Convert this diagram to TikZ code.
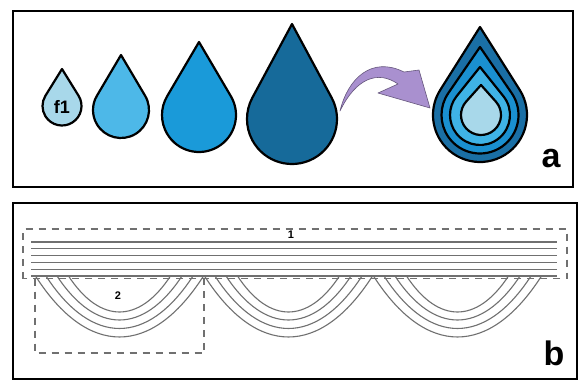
\documentclass[tikz,border=0pt]{standalone}
\usepackage{fontspec}
\setmainfont{Liberation Sans}
\usetikzlibrary{calc}
\definecolor{dropA}{HTML}{A8D8EA}
\definecolor{dropB}{HTML}{4DB8E8}
\definecolor{dropC}{HTML}{1A9AD9}
\definecolor{dropD}{HTML}{166A9A}
\definecolor{nestA}{HTML}{1A6FA5}
\definecolor{nestB}{HTML}{1A90D0}
\definecolor{nestC}{HTML}{3FB3E6}
\definecolor{arrowfill}{HTML}{A990CF}
\definecolor{linegray}{HTML}{707070}
\tikzset{
  frame/.style={draw=black, line width=2.6pt},
  dropline/.style={draw=black, line width=2.2pt, line join=round},
  dashbox/.style={draw=linegray, line width=1.3pt, dash pattern=on 7pt off 6pt},
  hline/.style={draw=linegray, line width=1.3pt},
  arcline/.style={draw=linegray, line width=1.1pt},
  biglabel/.style={font=\fontsize{34}{34}\selectfont\bfseries, inner sep=0pt},
  smalllabel/.style={font=\fontsize{11}{11}\selectfont\bfseries, inner sep=0pt}
}
% cx, cy (pixels, y down), radius, height of tip above centre, fill colour
\newcommand\drawdrop[5]{%
  \pgfmathsetmacro\dbeta{acos(#3/#4)}%
  \coordinate (dc) at (#1,-#2);
  \filldraw[fill=#5, dropline] ($(dc)+(0,#4)$) -- ($(dc)+(90-\dbeta:#3)$)
    arc[start angle=90-\dbeta, end angle=-270+\dbeta, radius=#3] -- cycle;
}
\begin{document}
\begin{tikzpicture}[x=1pt, y=1pt]
\useasboundingbox (0,0) rectangle (579,-381);
\fill[white] (0,0) rectangle (579,-381);

% ---------- panel a ----------
\draw[frame] (13,-11) rectangle (573,-187);
\drawdrop{62}{106}{19.5}{37}{dropA}
\node[font=\fontsize{18}{18}\selectfont\bfseries, inner sep=0pt] (f1) at (62,-107) {f1};
\drawdrop{121}{110}{28}{55}{dropB}
\drawdrop{199}{115}{37}{73}{dropC}
\drawdrop{292}{119}{45}{95}{dropD}

% curved arrow
\filldraw[fill=arrowfill, draw=arrowfill!60!black, line width=0.6pt, line join=round]
  (340,-111) .. controls (348,-78) and (372,-56) .. (404,-72)
  -- (419,-70) -- (430,-108) -- (378,-93)
  -- (398,-84) .. controls (378,-70) and (356,-78) .. (340,-111) -- cycle;

% nested drop
\drawdrop{480}{115}{47}{88}{nestA}
\drawdrop{480}{115}{38.5}{68}{nestB}
\drawdrop{480}{115}{30}{48}{nestC}
\drawdrop{481}{115}{20}{30}{dropA}

\node[biglabel, anchor=base] (la) at (551,-167) {a};

% ---------- panel b ----------
\draw[frame] (13,-203) rectangle (577,-379);

\foreach \yy in {242,248.8,255.6,262.4,269.2,276} {
  \draw[hline] (31,-\yy) -- (557,-\yy);
}
\foreach \cx in {119.5,288.5,457.5} {
  \foreach \w/\s in {84/61,73.5/52.5,62.5/44,51/36} {
    \draw[arcline] (\cx-\w,-276) .. controls (\cx-0.38*\w,-276-1.333*\s)
      and (\cx+0.38*\w,-276-1.333*\s) .. (\cx+\w,-276);
  }
}

\draw[dashbox] (23,-278.5) rectangle (567,-229);
\draw[dashbox] (35,-278.5) -- (35,-353) -- (204,-353) -- (204,-278.5);
\node[smalllabel] (l1) at (291,-235) {1};
\node[smalllabel] (l2) at (118,-296) {2};

\node[biglabel, anchor=base] (lb) at (554,-365) {b};
\end{tikzpicture}
\end{document}
